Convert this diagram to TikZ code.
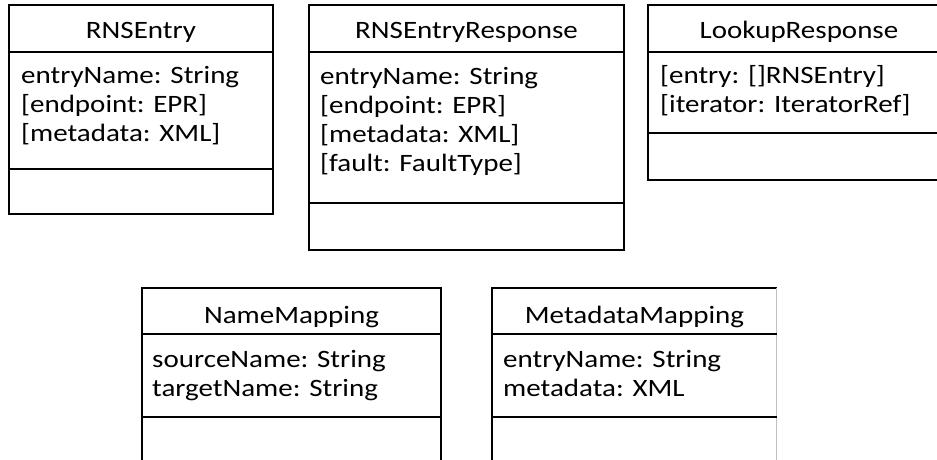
\documentclass[tikz,border=0pt]{standalone}
\usepackage{fontspec}
\setmainfont{Carlito}[FakeStretch=1.16]
\usepackage{tikz}
\usetikzlibrary{positioning}

\tikzset{
  classline/.style={draw=black,line width=1.6pt},
  classtitle/.style={font=\fontsize{25}{30}\selectfont,anchor=base,inner sep=0pt},
  classattr/.style={font=\fontsize{25}{30}\selectfont,anchor=base west,inner sep=0pt}
}

\begin{document}
\begin{tikzpicture}[x=1pt,y=-1pt]
\useasboundingbox (0,0) rectangle (937,459);
\clip (0,0) rectangle (937,459);

% RNSEntry
\draw[classline] (9,5) rectangle (273,214);
\draw[classline] (9,52) -- (273,52);
\draw[classline] (9,169) -- (273,169);
\node[classtitle] (rnsentry) at (141,38) {RNSEntry};
\node[classattr] (rnsentry-a1) at (21,83) {entryName: String};
\node[classattr] (rnsentry-a2) at (21,112) {[endpoint: EPR]};
\node[classattr] (rnsentry-a3) at (21,141) {[metadata: XML]};

% RNSEntryResponse
\draw[classline] (309,5) rectangle (624,250);
\draw[classline] (309,52) -- (624,52);
\draw[classline] (309,203) -- (624,203);
\node[classtitle] (response) at (466.5,38) {RNSEntryResponse};
\node[classattr] (response-a1) at (320,84) {entryName: String};
\node[classattr] (response-a2) at (320,113) {[endpoint: EPR]};
\node[classattr] (response-a3) at (320,142) {[metadata: XML]};
\node[classattr] (response-a4) at (320,171) {[fault: FaultType]};

% LookupResponse
\draw[classline] (648,5) rectangle (950,180);
\draw[classline] (648,52) -- (950,52);
\draw[classline] (648,133) -- (950,133);
\node[classtitle] (lookup) at (799,38) {LookupResponse};
\node[classattr] (lookup-a1) at (660,83) {[entry: []RNSEntry]};
\node[classattr] (lookup-a2) at (660,112) {[iterator: IteratorRef]};

% NameMapping
\draw[classline] (142,470) -- (142,288) -- (441,288) -- (441,470);
\draw[classline] (142,334) -- (441,334);
\draw[classline] (142,417) -- (441,417);
\node[classtitle] (namemap) at (291.5,323) {NameMapping};
\node[classattr] (namemap-a1) at (152,367) {sourceName: String};
\node[classattr] (namemap-a2) at (152,396) {targetName: String};

% MetadataMapping
\draw[classline] (492,470) -- (492,288) -- (777,288);
\draw[gray!50,line width=0.8pt] (776,288) -- (776,470);
\draw[classline] (492,334) -- (777,334);
\draw[classline] (492,417) -- (777,417);
\node[classtitle] (metamap) at (634.5,323) {MetadataMapping};
\node[classattr] (metamap-a1) at (503,367) {entryName: String};
\node[classattr] (metamap-a2) at (503,396) {metadata: XML};

\end{tikzpicture}
\end{document}
